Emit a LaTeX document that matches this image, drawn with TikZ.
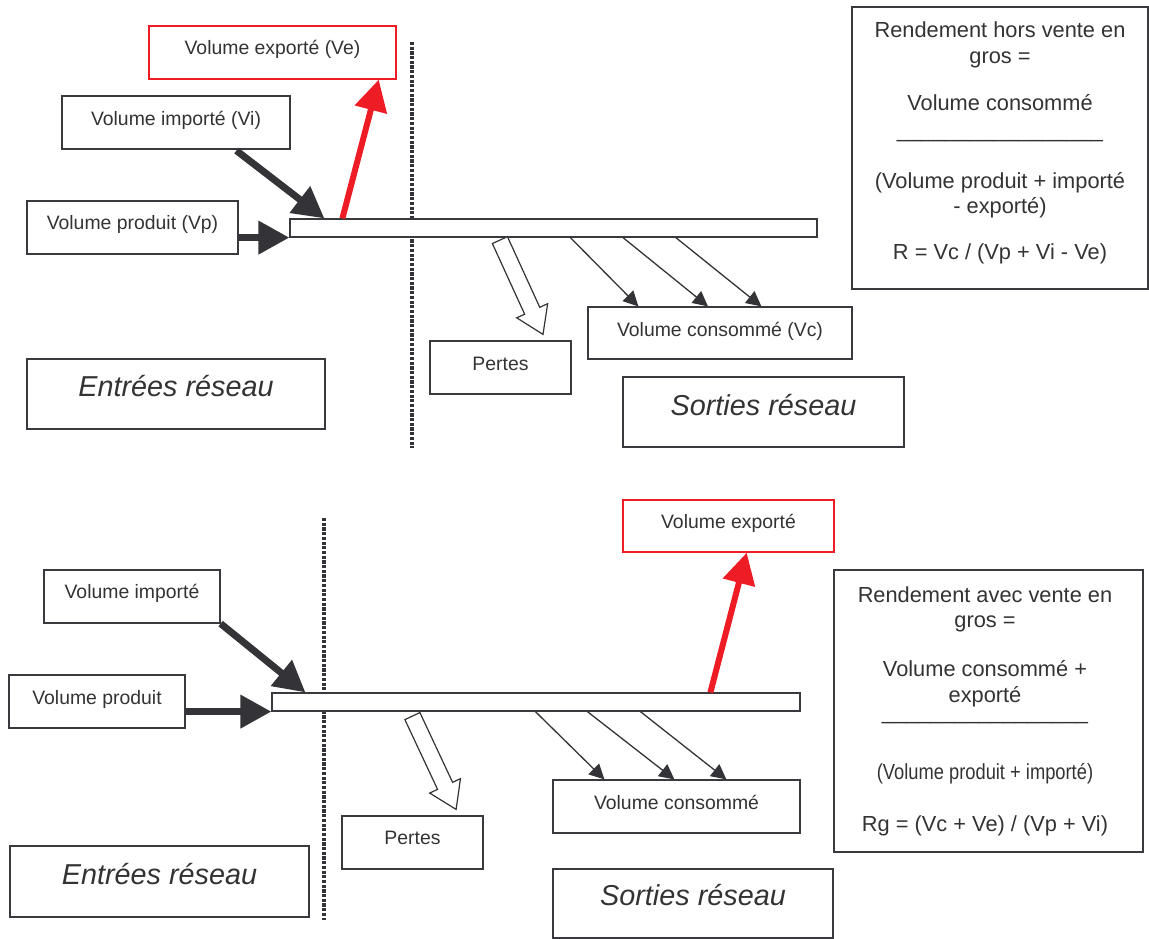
\documentclass[tikz,border=0pt]{standalone}
\usepackage{fontspec}
\usepackage{graphicx}
\setmainfont{Liberation Sans}
\usetikzlibrary{arrows.meta,calc,fit}
\definecolor{lc}{HTML}{3A3A3E}
\definecolor{ac}{HTML}{343438}
\definecolor{rc}{HTML}{EE1C25}
\definecolor{tc}{HTML}{333333}
\newcommand\lblfont{\fontsize{19.4}{23}\selectfont}
\newcommand\bigfont{\fontsize{28.8}{34}\selectfont\itshape}
\newcommand\frmfont{\fontsize{21.8}{25}\selectfont}
\newcommand\hollowarr[2]{%
  \coordinate (ha-s) at #1;
  \coordinate (ha-t) at #2;
  \coordinate (ha-hb) at ($(ha-t)!26pt!(ha-s)$);
  \draw[hollowstyle] ($(ha-s)!8.3pt!90:(ha-t)$) -- ($(ha-hb)!8.3pt!90:(ha-t)$)
    -- ($(ha-hb)!17pt!90:(ha-t)$) -- (ha-t) -- ($(ha-hb)!17pt!-90:(ha-t)$)
    -- ($(ha-hb)!8.3pt!-90:(ha-t)$) -- ($(ha-s)!8.3pt!-90:(ha-t)$) -- cycle;}
\tikzset{
  box/.style={draw=lc, line width=1.2pt, fill=white, inner sep=0pt},
  rbox/.style={draw=rc, line width=1.4pt, fill=white, inner sep=0pt},
  lbl/.style={font=\lblfont, text=tc, anchor=base, inner sep=0pt},
  big/.style={font=\bigfont, text=tc, anchor=base, inner sep=0pt},
  frm/.style={font=\frmfont, text=tc, anchor=base, inner sep=0pt},
  heavy/.style={draw=ac, line width=7pt, -{Triangle[length=31pt,width=32pt]}},
  heavyred/.style={draw=rc, line width=6pt, -{Triangle[length=31pt,width=32pt]}},
  thin/.style={draw=ac, line width=1.3pt, -{Triangle[length=15pt,width=15pt]}},
  hollowstyle/.style={draw=ac, line width=1.2pt, fill=white, line join=miter},
  dots/.style={draw=ac, line width=3.2pt, dash pattern=on 3.2pt off 1.5pt}
}
\begin{document}
\begin{tikzpicture}[x=1pt,y=-1pt]
\useasboundingbox[fill=white] (0,0) rectangle (1149,939);

% ================= TOP DIAGRAM =================
\draw[dots] (412,42) -- (412,448);

\node[box, fit={(290,219) (817,237)}] (bar1) {};
\node[rbox, fit={(149,26) (396,79)}] (ve1) {};
\node[box, fit={(62,96) (290,149)}] (vi1) {};
\node[box, fit={(27,201) (238,254)}] (vp1) {};
\node[box, fit={(588,307) (852,359)}] (vc1) {};
\node[box, fit={(430,341) (571,394)}] (pe1) {};
\node[box, fit={(27,359) (325,429)}] (en1) {};
\node[box, fit={(623,377) (904,447)}] (so1) {};
\node[box, fit={(852,7) (1148,289)}] (f1) {};

\node[lbl] (ve1t) at (272.5,55) {Volume exporté (Ve)};
\node[lbl] (vi1t) at (176,126) {Volume importé (Vi)};
\node[lbl] (vp1t) at (132.5,229) {Volume produit (Vp)};
\node[lbl] (vc1t) at (720,336) {Volume consommé (Vc)};
\node[lbl] (pe1t) at (500.5,370) {Pertes};
\node[big] (en1t) at (176,396) {Entrées réseau};
\node[big] (so1t) at (763.5,415) {Sorties réseau};

\node[frm] (f1a) at (1000,38) {Rendement hors vente en};
\node[frm] (f1b) at (1000,64) {gros =};
\node[frm] (f1c) at (1000,111) {Volume consommé};
\node[frm] (f1d) at (1000,138) {\_\_\_\_\_\_\_\_\_\_\_\_\_\_\_\_\_};
\node[frm] (f1e) at (1000,189) {(Volume produit + importé};
\node[frm] (f1f) at (1000,213) {- exporté)};
\node[frm] (f1g) at (1000,259) {R = Vc / (Vp + Vi - Ve)};

\draw[heavy] ($(vi1.south west)+(175,1)$) -- ($(bar1.north west)+(35,0)$);
\draw[heavy] (vp1.east |- bar1.south west) -- (bar1.south west);
\draw[heavyred] ($(bar1.north west)+(53,0)$) -- ($(ve1.south east)+(-18,0)$);
\draw[thin] ($(bar1.south west)+(281,0)$) -- ($(vc1.north west)+(51,0)$);
\draw[thin] ($(bar1.south west)+(333.6,0)$) -- ($(vc1.north west)+(120.6,0)$);
\draw[thin] ($(bar1.south west)+(386.4,0)$) -- ($(vc1.north west)+(174,0)$);
\hollowarr{($(bar1.south west)+(210.5,2.5)$)}{($(pe1.north west)+(113.6,-6)$)}

% ================= BOTTOM DIAGRAM =================
\draw[dots] (324,518) -- (324,920);

\node[box, fit={(272,693) (800,711)}] (bar2) {};
\node[rbox, fit={(623,500) (834,552)}] (ve2) {};
\node[box, fit={(44,570) (220,623)}] (vi2) {};
\node[box, fit={(9,675) (185,728)}] (vp2) {};
\node[box, fit={(553,780) (800,833)}] (vc2) {};
\node[box, fit={(342,816) (483,869)}] (pe2) {};
\node[box, fit={(10,846) (309,917)}] (en2) {};
\node[box, fit={(553,869) (833,938)}] (so2) {};
\node[box, fit={(834,570) (1143,852)}] (f2) {};

\node[lbl] (ve2t) at (728.5,528) {Volume exporté};
\node[lbl] (vi2t) at (132,598) {Volume importé};
\node[lbl] (vp2t) at (97,704) {Volume produit};
\node[lbl] (vc2t) at (676.5,809) {Volume consommé};
\node[lbl] (pe2t) at (412.5,844) {Pertes};
\node[big] (en2t) at (159.5,884) {Entrées réseau};
\node[big] (so2t) at (693,905) {Sorties réseau};

\node[frm] (f2a) at (985,602) {Rendement avec vente en};
\node[frm] (f2b) at (985,627) {gros =};
\node[frm] (f2c) at (985,676) {Volume consommé +};
\node[frm] (f2d) at (985,702) {exporté};
\node[frm] (f2e) at (985,719) {\_\_\_\_\_\_\_\_\_\_\_\_\_\_\_\_\_};
\node[frm] (f2f) at (985,779) {\scalebox{0.84}[1]{(Volume produit + importé)}};
\node[frm] (f2g) at (985,831) {Rg = (Vc + Ve) / (Vp + Vi)};

\draw[heavy] (vi2.south east) -- ($(bar2.north west)+(34,0)$);
\draw[heavy] (vp2.east |- bar2.south west) -- (bar2.south west);
\draw[heavyred] ($(bar2.north west)+(439,0)$) -- ($(ve2.south east)+(-88,0)$);
\draw[thin] ($(bar2.south west)+(264,0)$) -- ($(vc2.north west)+(52,0)$);
\draw[thin] ($(bar2.south west)+(316,0)$) -- ($(vc2.north west)+(122,0)$);
\draw[thin] ($(bar2.south west)+(369,0)$) -- ($(vc2.north west)+(174,0)$);
\hollowarr{($(bar2.south west)+(141,4.5)$)}{($(pe2.north west)+(114.7,-6)$)}
\end{tikzpicture}
\end{document}
